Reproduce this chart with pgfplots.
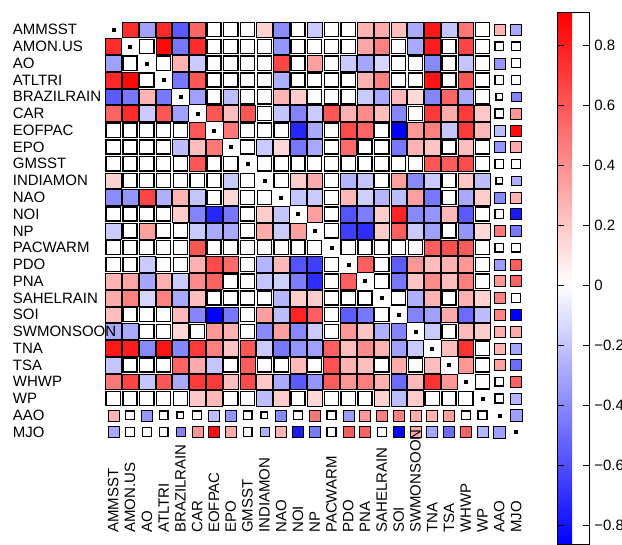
\documentclass[border=0pt]{standalone}
\usepackage{pgfplots}
\pgfplotsset{compat=1.18}
\usepackage{pgfplotstable}
\usepackage{fontspec}
\setmainfont{Liberation Sans}

% upper triangle, significant correlations (full-size cells)
\pgfplotstableread{
r c v
1 2 0.75
1 3 -0.32
1 4 0.76
1 5 -0.56
1 6 0.55
1 10 0.16
1 11 -0.39
1 13 -0.18
1 16 0.27
1 17 0.30
1 18 0.23
1 19 -0.29
1 20 0.82
1 21 -0.20
1 22 0.48
2 4 0.88
2 5 -0.46
2 6 0.75
2 11 -0.36
2 16 0.32
2 17 0.45
2 19 -0.29
2 20 0.80
2 22 0.66
3 5 0.27
3 6 -0.18
3 11 0.66
3 13 0.34
3 15 -0.18
3 16 -0.30
3 17 -0.14
3 20 -0.40
3 22 -0.20
4 5 -0.46
4 6 0.60
4 11 -0.27
4 16 0.28
4 17 0.45
4 20 0.84
4 22 0.60
5 6 -0.32
5 8 -0.22
5 11 0.27
5 12 0.18
5 16 -0.18
5 17 -0.29
5 18 0.25
5 19 0.14
5 20 -0.41
5 21 0.55
5 22 -0.29
6 7 0.60
6 8 0.23
6 9 0.60
6 11 -0.20
6 12 -0.42
6 13 -0.18
6 14 0.60
6 15 0.28
6 16 0.41
6 17 0.23
6 18 -0.41
6 20 0.70
6 21 0.30
6 22 0.70
6 23 0.20
7 8 0.48
7 12 -0.73
7 13 -0.29
7 15 0.64
7 16 0.55
7 18 -0.863
7 19 0.37
7 20 0.45
7 21 -0.20
7 22 0.70
7 23 0.25
8 10 -0.18
8 11 0.14
8 12 -0.46
8 13 -0.29
8 15 0.53
8 18 -0.46
8 19 0.27
8 20 0.21
8 22 0.23
9 20 0.60
9 21 0.58
9 22 0.64
10 12 0.18
10 13 0.30
10 15 -0.25
10 16 -0.20
10 18 0.34
10 19 -0.40
10 20 -0.18
10 22 0.20
10 23 -0.22
11 12 -0.20
11 13 -0.18
11 15 0.25
11 16 -0.16
11 17 -0.25
11 18 -0.22
11 19 0.34
11 20 -0.46
11 22 -0.29
11 23 0.18
12 13 0.34
12 15 -0.58
12 16 -0.44
12 17 0.18
12 18 0.78
12 19 -0.40
12 20 -0.36
12 21 0.25
12 22 -0.56
13 15 -0.65
13 16 -0.71
13 17 0.18
13 18 0.57
13 19 -0.18
13 20 -0.32
13 22 -0.36
13 23 0.14
14 20 0.57
14 21 0.62
14 22 0.58
15 16 0.57
15 18 -0.55
15 19 0.37
15 20 0.23
15 21 0.27
15 22 0.37
16 18 -0.46
16 19 0.21
16 20 0.41
16 21 0.23
16 22 0.46
17 19 -0.27
17 20 0.27
17 22 0.28
17 23 0.16
18 19 -0.42
18 20 -0.32
18 21 0.30
18 22 -0.50
18 23 -0.22
19 20 -0.18
19 22 0.25
19 23 0.18
20 21 0.23
20 22 0.73
21 22 0.37
}\bigcol

% upper triangle, non-significant (empty boxes, full-size cells)
\pgfplotstableread{
r c
1 7
1 8
1 9
1 12
1 14
1 15
1 23
2 3
2 7
2 8
2 9
2 10
2 12
2 13
2 14
2 15
2 18
2 21
2 23
3 4
3 7
3 8
3 9
3 10
3 12
3 14
3 18
3 19
3 21
3 23
4 7
4 8
4 9
4 10
4 12
4 13
4 14
4 15
4 18
4 19
4 21
4 23
5 7
5 9
5 10
5 13
5 14
5 15
5 23
6 10
6 19
7 9
7 10
7 11
7 14
7 17
8 9
8 14
8 16
8 17
8 21
8 23
9 10
9 11
9 12
9 13
9 14
9 15
9 16
9 17
9 18
9 19
9 23
10 11
10 14
10 17
10 21
11 14
11 21
12 14
12 23
13 14
13 21
14 15
14 16
14 17
14 18
14 19
14 23
15 17
15 23
16 17
16 23
17 18
17 21
19 21
20 23
21 23
22 23
}\bigbox

% AAO / MJO cells (smaller), significant
\pgfplotstableread{
r c v s
1 24 0.27 5.5
1 25 -0.29 5.5
3 24 -0.36 5.5
5 25 -0.42 4.6
6 25 0.37 5.5
7 24 -0.22 5.5
7 25 0.86 5.5
8 24 -0.36 5.5
8 25 0.30 5.5
10 25 -0.27 4.6
11 24 -0.40 5.5
11 25 0.27 5.5
12 25 -0.77 5.5
13 24 0.48 5.5
13 25 -0.46 5.5
15 24 -0.34 5.5
15 25 0.58 5.5
16 24 0.37 5.5
16 25 0.55 5.5
17 24 0.45 5.5
18 24 0.45 5.5
18 25 -0.863 5.5
19 24 0.29 5.5
19 25 0.30 5.5
20 24 0.27 5.5
20 25 -0.30 5.5
21 24 0.34 5.5
21 25 -0.50 5.5
22 25 0.55 5.5
23 25 -0.25 5.5
24 25 -0.32 5.8
}\smallcol

% AAO / MJO cells (smaller), non-significant
\pgfplotstableread{
r c s
2 24 4.4
2 25 4.4
3 25 4.4
4 24 4.4
4 25 4.4
5 24 3.4
6 24 4.4
9 24 4.4
9 25 4.4
10 24 3.4
12 24 4.4
14 24 4.4
14 25 4.4
17 25 4.4
22 24 4.4
23 24 4.4
}\smallbox

\pgfplotstableread{
d
1
2
3
4
5
6
7
8
9
10
11
12
13
14
15
16
17
18
19
20
21
22
23
24
25
}\diag

\begin{document}
\begin{tikzpicture}[font=\fontsize{15pt}{18pt}\selectfont]
\useasboundingbox (0,0) rectangle (622pt,-545pt);
\begin{axis}[
  at={(104.9pt,-21.3pt)}, anchor=north west,
  scale only axis, width=419.6pt, height=419.1pt,
  xmin=0.5, xmax=25.5, ymin=0.5, ymax=25.5, y dir=reverse,
  axis line style={draw=none}, major tick length=0pt, tick style={draw=none},
  clip=false,
  xtick={1,...,25}, ytick={1,...,25},
  xticklabels={AMMSST,AMON.US,AO,ATLTRI,BRAZILRAIN,CAR,EOFPAC,EPO,GMSST,INDIAMON,NAO,NOI,NP,PACWARM,PDO,PNA,SAHELRAIN,SOI,{},TNA,TSA,WHWP,WP,AAO,MJO},
  yticklabels={AMMSST,AMON.US,AO,ATLTRI,BRAZILRAIN,CAR,EOFPAC,EPO,GMSST,INDIAMON,NAO,NOI,NP,PACWARM,PDO,PNA,SAHELRAIN,SOI,{},TNA,TSA,WHWP,WP,AAO,MJO},
  xticklabel style={rotate=90, anchor=west, inner sep=0pt},
  xticklabel shift=92.6pt,
  yticklabel style={anchor=west, inner sep=0pt},
  yticklabel shift=92.2pt,
  colormap={bwr}{rgb(0pt)=(0,0,1); rgb(863pt)=(1,1,1); rgb(1770pt)=(1,0,0)},
  point meta min=-0.863, point meta max=0.907,
  colorbar,
  colorbar style={
    at={(parent axis.north east)}, anchor=north west,
    xshift=24.8pt, yshift=8.4pt,
    scale only axis, width=31.3pt, height=531.1pt,
    y dir=normal,
    axis line style={draw=black, line width=0.8pt},
    tick style={draw=black, line width=0.7pt},
    major tick length=6.5pt, tick align=inside,
    xtick=\empty,
    ytick={-0.8,-0.6,-0.4,-0.2,0,0.2,0.4,0.6,0.8},
    yticklabels={−0.8,−0.6,−0.4,−0.2,0,0.2,0.4,0.6,0.8},
    ytick pos=both, yticklabel pos=right,
    xticklabel shift=0pt, yticklabel shift=5pt,
    yticklabel style={anchor=west, inner sep=0pt, rotate=0},
    after end axis/.code={},
  },
  % the longest label runs over the cells: set it after everything else
  after end axis/.code={
    \node[rotate=90, anchor=west, inner sep=0pt] at ([yshift=-92.6pt]axis cs:19,25.5) {SWMONSOON};
    \node[anchor=west, inner sep=0pt] at ([xshift=-92.2pt]axis cs:0.5,19) {SWMONSOON};
  },
]
% significant correlations, full cells (both halves)
\addplot[scatter, only marks, mark=square*, mark size=7.85pt, point meta=explicit,
  scatter/use mapped color={draw=none, fill=mapped color}]
  table[x=c, y=r, meta=v] {\bigcol};
\addplot[scatter, only marks, mark=square*, mark size=7.85pt, point meta=explicit,
  scatter/use mapped color={draw=none, fill=mapped color}]
  table[x=r, y=c, meta=v] {\bigcol};
% non-significant boxes
\addplot[only marks, mark=square*, mark size=7.1pt,
  mark options={draw=black, fill=white, line width=1.4pt}]
  table[x=c, y=r] {\bigbox};
\addplot[only marks, mark=square*, mark size=7.1pt,
  mark options={draw=black, fill=white, line width=1.4pt}]
  table[x=r, y=c] {\bigbox};
% AAO / MJO significant
\addplot[scatter, only marks, mark=square*, point meta=explicit,
  scatter/use mapped color={draw=none, fill=mapped color},
  visualization depends on={\thisrow{s} \as \msz},
  scatter/@pre marker code/.append style={/tikz/mark size=\msz}]
  table[x=c, y=r, meta=v] {\smallcol};
\addplot[scatter, only marks, mark=square*, point meta=explicit,
  scatter/use mapped color={draw=none, fill=mapped color},
  visualization depends on={\thisrow{s} \as \msz},
  scatter/@pre marker code/.append style={/tikz/mark size=\msz}]
  table[x=r, y=c, meta=v] {\smallcol};
% AAO / MJO non-significant
\addplot[scatter, only marks, mark=square*, point meta=explicit,
  scatter/use mapped color={draw=black, fill=white, line width=1.3pt},
  visualization depends on={\thisrow{s} \as \msz},
  scatter/@pre marker code/.append style={/tikz/mark size=\msz}]
  table[x=c, y=r, meta=s] {\smallbox};
\addplot[scatter, only marks, mark=square*, point meta=explicit,
  scatter/use mapped color={draw=black, fill=white, line width=1.3pt},
  visualization depends on={\thisrow{s} \as \msz},
  scatter/@pre marker code/.append style={/tikz/mark size=\msz}]
  table[x=r, y=c, meta=s] {\smallbox};
% diagonal
\addplot[only marks, mark=square*, mark size=1.5pt, black]
  table[x=d, y=d] {\diag};
\end{axis}
\end{tikzpicture}
\end{document}
